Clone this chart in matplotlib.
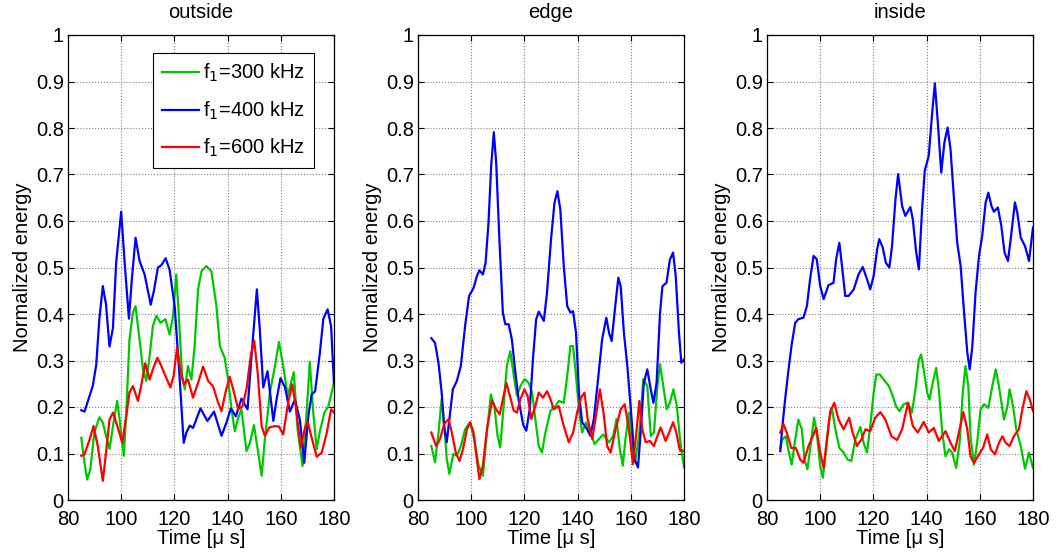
import numpy as np
import matplotlib
matplotlib.use("Agg")
import matplotlib.pyplot as plt
from matplotlib.ticker import FormatStrFormatter

plt.rcParams['font.family'] = ['Liberation Sans', 'DejaVu Sans']
plt.rcParams['font.size'] = 14.5

# ---- data (time in us, normalized energy) ----
# outside
t_out_400 = [85, 86.2, 89.3, 90.6, 91.8, 93.1, 94.3, 95.6, 96.9, 98.1, 100, 101.3, 102.9, 104.0, 105.4,
             106.9, 108.8, 111.1, 112.3, 113.8, 115.1, 116.7, 118.2, 120.1, 122.0, 123.5, 124.5, 125.8,
             127.0, 129.8, 132.4, 134.9, 137.7, 139.6, 141.2, 143.1, 145.2, 147.5, 149.0, 151.0, 152.1,
             153.4, 155.0, 157.2, 158.4, 159.9, 161.6, 163.4, 165.3, 167.2, 168.8, 170.4, 171.6, 172.9,
             174.7, 176.0, 177.6, 178.9, 180]
e_out_400 = [0.193, 0.19, 0.245, 0.29, 0.39, 0.46, 0.42, 0.33, 0.37, 0.51, 0.62, 0.51, 0.39, 0.475, 0.564,
             0.514, 0.485, 0.42, 0.45, 0.50, 0.505, 0.52, 0.495, 0.417, 0.26, 0.123, 0.145, 0.16,
             0.155, 0.197, 0.17, 0.19, 0.138, 0.167, 0.197, 0.18, 0.218, 0.195, 0.31, 0.453, 0.367,
             0.242, 0.277, 0.17, 0.216, 0.262, 0.242, 0.19, 0.216, 0.172, 0.08, 0.183, 0.227, 0.234,
             0.317, 0.39, 0.41, 0.374, 0.25]
t_out_300 = [85, 86.2, 87.2, 88.4, 89.9, 91.8, 93.1, 94.3, 95.6, 96.9, 98.5, 99.4, 101.0, 101.9, 103.1,
             104.4, 105.4, 106.9, 108.2, 109.4, 110.7, 111.9, 113.2, 114.8, 116.6, 118.2, 119.5, 120.7,
             121.6, 122.9, 123.9, 125.1, 126.4, 127.6, 128.9, 130.2, 132.0, 133.9, 135.8, 137.1, 138.9,
             140.2, 141.5, 142.7, 144.0, 145.2, 147.1, 148.4, 149.9, 151.5, 152.8, 154.0, 155.9, 157.8,
             159.3, 160.9, 162.6, 163.8, 164.9, 166.3, 168.2, 169.7, 170.9, 172.2, 173.5, 174.7, 176.4,
             177.9, 180]
e_out_300 = [0.134, 0.08, 0.044, 0.066, 0.145, 0.178, 0.166, 0.138, 0.11, 0.159, 0.213, 0.173, 0.095, 0.188, 0.345,
             0.403, 0.417, 0.345, 0.281, 0.256, 0.31, 0.374, 0.396, 0.381, 0.389, 0.356, 0.396, 0.485,
             0.403, 0.267, 0.238, 0.288, 0.259, 0.331, 0.453, 0.492, 0.503, 0.492, 0.417, 0.331, 0.306,
             0.259, 0.195, 0.148, 0.177, 0.195, 0.105, 0.123, 0.161, 0.102, 0.052, 0.13, 0.231, 0.288,
             0.34, 0.288, 0.224, 0.252, 0.275, 0.152, 0.073, 0.188, 0.297, 0.188, 0.109, 0.148, 0.188,
             0.202, 0.252]
t_out_600 = [85, 86.2, 88.1, 89.6, 91.2, 93.1, 94.3, 95.6, 96.9, 98.5, 100.4, 101.9, 103.1, 104.4, 106.3,
             107.5, 109.0, 110.7, 111.9, 113.6, 114.8, 116.6, 118.5, 119.7, 121.0, 122.4, 123.6, 125.1,
             127.0, 128.9, 130.8, 132.7, 134.5, 136.4, 137.7, 139.2, 140.8, 142.1, 144.0, 145.6, 147.1,
             148.7, 150.0, 151.3, 152.8, 154.0, 155.7, 157.8, 159.3, 160.9, 162.8, 164.3, 165.6, 167.5,
             169.1, 170.1, 171.6, 173.5, 175.4, 177.3, 178.9, 180]
e_out_600 = [0.095, 0.098, 0.13, 0.159, 0.116, 0.041, 0.102, 0.173, 0.188, 0.16, 0.123, 0.18, 0.231, 0.245, 0.213,
             0.245, 0.294, 0.259, 0.281, 0.306, 0.292, 0.267, 0.242, 0.267, 0.328, 0.274, 0.249, 0.259,
             0.22, 0.252, 0.287, 0.256, 0.245, 0.21, 0.191, 0.231, 0.265, 0.238, 0.195, 0.202, 0.238,
             0.31, 0.343, 0.274, 0.159, 0.138, 0.156, 0.159, 0.158, 0.141, 0.21, 0.249, 0.202, 0.113,
             0.156, 0.168, 0.134, 0.093, 0.102, 0.145, 0.195, 0.188]

# edge
t_edge_400 = [85, 86.4, 87.7, 88.9, 89.8, 90.8, 91.8, 93.1, 94.6, 96.1, 97.7, 99.2, 100.9, 102.1, 103.1,
              104.4, 105.4, 106.5, 107.5, 108.5, 109.4, 110.6, 111.9, 112.8, 114.1, 115.3, 116.6, 117.8,
              119.5, 120.7, 122.0, 123.2, 124.4, 125.4, 127.3, 128.5, 130.0, 131.3, 132.4, 133.5, 134.8,
              136.1, 137.3, 138.3, 139.4, 140.5, 141.7, 143.2, 144.8, 146.1, 147.7, 149.2, 150.8, 151.8,
              152.8, 153.9, 155.3, 156.2, 157.4, 158.7, 160.2, 161.4, 162.7, 163.7, 164.9, 166.2, 167.5,
              168.5, 169.7, 171.0, 171.9, 173.4, 174.7, 175.9, 176.9, 178.1, 179.0, 180]
e_edge_400 = [0.348, 0.338, 0.295, 0.231, 0.159, 0.124, 0.174, 0.238, 0.256, 0.288, 0.374, 0.439, 0.456, 0.481, 0.494,
              0.485, 0.51, 0.596, 0.718, 0.791, 0.725, 0.56, 0.403, 0.378, 0.378, 0.345, 0.274, 0.217,
              0.163, 0.149, 0.195, 0.302, 0.388, 0.405, 0.385, 0.446, 0.56, 0.639, 0.664, 0.625, 0.503,
              0.417, 0.403, 0.406, 0.36, 0.231, 0.167, 0.156, 0.138, 0.174, 0.26, 0.345, 0.392, 0.36,
              0.342, 0.403, 0.478, 0.46, 0.36, 0.288, 0.181, 0.088, 0.07, 0.145, 0.252, 0.281, 0.238,
              0.209, 0.252, 0.403, 0.46, 0.467, 0.517, 0.532, 0.481, 0.36, 0.295, 0.302]
t_edge_300 = [85, 86.4, 87.7, 88.9, 89.8, 90.8, 91.8, 93.3, 94.6, 96.1, 97.7, 99.6, 101.1, 102.8, 104.4,
              105.9, 107.4, 108.7, 109.9, 110.9, 112.2, 113.4, 114.7, 116.0, 117.2, 118.5, 120.1, 121.6,
              122.9, 124.1, 125.4, 126.6, 127.9, 129.8, 131.7, 132.9, 134.8, 136.1, 137.3, 138.3, 139.4,
              140.5, 141.7, 143.2, 144.8, 146.4, 148.0, 149.6, 151.8, 153.4, 154.6, 155.9, 157.0, 158.0,
              159.3, 160.5, 161.6, 163.1, 164.7, 166.2, 167.5, 168.7, 170.0, 171.0, 172.2, 173.5, 174.7,
              176.0, 177.3, 178.5, 180]
e_edge_300 = [0.116, 0.081, 0.145, 0.217, 0.167, 0.088, 0.056, 0.099, 0.095, 0.116, 0.152, 0.167, 0.131, 0.074, 0.052,
              0.145, 0.227, 0.202, 0.138, 0.113, 0.202, 0.288, 0.32, 0.267, 0.224, 0.245, 0.26, 0.252,
              0.231, 0.174, 0.116, 0.102, 0.145, 0.192, 0.202, 0.213, 0.209, 0.267, 0.331, 0.331, 0.267,
              0.195, 0.145, 0.167, 0.145, 0.12, 0.131, 0.141, 0.124, 0.138, 0.174, 0.109, 0.074, 0.131,
              0.188, 0.116, 0.081, 0.138, 0.26, 0.245, 0.138, 0.145, 0.245, 0.292, 0.245, 0.195, 0.209,
              0.238, 0.202, 0.131, 0.07]
t_edge_600 = [85, 86.8, 88.3, 89.8, 91.5, 92.7, 94.2, 95.6, 96.9, 98.4, 99.6, 100.9, 102.1, 103.1, 104.4,
              105.9, 107.8, 109.4, 110.7, 111.9, 113.2, 114.4, 116.0, 117.2, 118.5, 120.0, 121.2, 122.6,
              124.1, 125.4, 127.0, 128.5, 129.8, 131.0, 132.9, 134.8, 136.7, 138.3, 139.8, 141.3, 142.6,
              143.8, 145.5, 146.7, 148.4, 149.9, 151.1, 152.4, 154.3, 156.2, 157.7, 159.3, 160.8, 162.1,
              163.2, 164.3, 165.6, 167.2, 168.7, 170.0, 171.2, 173.1, 174.4, 175.9, 177.1, 178.5, 180]
e_edge_600 = [0.145, 0.116, 0.131, 0.163, 0.174, 0.145, 0.102, 0.084, 0.109, 0.152, 0.167, 0.145, 0.088, 0.045, 0.074,
              0.152, 0.213, 0.195, 0.184, 0.217, 0.252, 0.227, 0.192, 0.188, 0.217, 0.238, 0.224, 0.174,
              0.202, 0.231, 0.22, 0.234, 0.217, 0.195, 0.202, 0.159, 0.124, 0.145, 0.188, 0.22, 0.231,
              0.174, 0.131, 0.174, 0.238, 0.181, 0.116, 0.102, 0.152, 0.195, 0.206, 0.152, 0.077, 0.145,
              0.213, 0.152, 0.124, 0.127, 0.116, 0.138, 0.156, 0.127, 0.145, 0.167, 0.145, 0.106, 0.106]

# inside
t_in_400 = [85, 85.8, 86.8, 88.1, 89.3, 90.6, 91.8, 93.7, 95.0, 96.2, 97.5, 98.7, 100, 101.3, 103.1,
            105.0, 106.0, 107.2, 108.2, 109.4, 110.7, 112.6, 114.4, 116.0, 117.6, 118.8, 120.1, 121.4,
            122.2, 123.5, 124.7, 126.0, 127.0, 128.3, 129.3, 130.8, 132.0, 133.9, 134.8, 136.1, 137.1,
            138.3, 139.3, 140.8, 142.1, 143.1, 144.3, 145.5, 146.7, 147.9, 149.0, 150.3, 151.5, 152.8,
            154.0, 155.3, 156.2, 157.2, 158.4, 159.7, 160.9, 162.2, 163.2, 164.4, 165.3, 166.8, 168.1,
            169.3, 170.6, 171.9, 173.2, 174.1, 175.4, 177.0, 178.5, 180]
e_in_400 = [0.105, 0.159, 0.216, 0.281, 0.335, 0.381, 0.389, 0.392, 0.417, 0.475, 0.525, 0.518, 0.46, 0.432, 0.462,
            0.467, 0.518, 0.553, 0.503, 0.439, 0.439, 0.453, 0.485, 0.501, 0.475, 0.453, 0.482, 0.539,
            0.561, 0.543, 0.51, 0.5, 0.546, 0.647, 0.701, 0.632, 0.611, 0.63, 0.604, 0.532, 0.496,
            0.625, 0.708, 0.74, 0.833, 0.896, 0.805, 0.704, 0.769, 0.801, 0.754, 0.647, 0.554, 0.503,
            0.41, 0.317, 0.281, 0.331, 0.446, 0.525, 0.568, 0.64, 0.661, 0.632, 0.62, 0.629, 0.589,
            0.532, 0.514, 0.575, 0.64, 0.618, 0.564, 0.546, 0.514, 0.586]
t_in_300 = [85, 85.8, 87.1, 88.1, 89.3, 90.6, 91.8, 93.1, 94.1, 95.2, 96.2, 97.7, 98.7, 100, 101.0,
            102.1, 103.4, 104.4, 105.7, 107.2, 108.8, 110.3, 111.7, 113.2, 115.1, 116.3, 117.6, 118.8,
            120.1, 121.1, 122.4, 123.9, 125.8, 127.3, 128.5, 129.8, 131.4, 133.0, 134.5, 135.8, 137.1,
            137.9, 138.9, 140.2, 141.1, 142.3, 143.6, 144.6, 145.9, 147.1, 148.4, 149.6, 151.1, 152.4,
            153.6, 154.6, 155.7, 156.5, 157.8, 159.0, 160.3, 161.6, 163.2, 164.7, 166.0, 167.2, 169.1,
            170.4, 171.2, 172.5, 173.7, 175.4, 177.0, 178.5, 180]
e_in_300 = [0.112, 0.13, 0.137, 0.105, 0.076, 0.13, 0.173, 0.152, 0.087, 0.066, 0.109, 0.177, 0.145, 0.073, 0.048,
            0.102, 0.173, 0.198, 0.152, 0.112, 0.102, 0.087, 0.084, 0.13, 0.157, 0.123, 0.102, 0.159,
            0.231, 0.27, 0.27, 0.259, 0.245, 0.223, 0.202, 0.191, 0.206, 0.209, 0.188, 0.238, 0.302,
            0.313, 0.281, 0.231, 0.216, 0.252, 0.284, 0.238, 0.145, 0.094, 0.109, 0.102, 0.069, 0.123,
            0.231, 0.288, 0.245, 0.137, 0.076, 0.123, 0.195, 0.206, 0.198, 0.245, 0.281, 0.245, 0.173,
            0.202, 0.238, 0.202, 0.152, 0.116, 0.067, 0.102, 0.069]
t_in_600 = [85, 86.2, 87.4, 89.1, 90.8, 92.5, 93.7, 95.6, 97.5, 98.5, 100, 101.3, 102.5, 103.8, 105.3,
            106.9, 108.8, 110.9, 112.2, 113.8, 115.5, 117.0, 118.8, 120.7, 122.6, 124.5, 126.8, 128.9,
            130.8, 133.0, 134.8, 136.7, 138.9, 140.8, 142.7, 144.6, 147.1, 149.0, 150.6, 152.4, 153.8,
            155.3, 156.5, 157.8, 159.7, 161.2, 162.8, 164.1, 165.7, 167.2, 168.5, 169.7, 171.2, 172.8,
            174.7, 176.0, 177.5, 178.8, 180]
e_in_600 = [0.145, 0.163, 0.145, 0.112, 0.112, 0.087, 0.08, 0.116, 0.141, 0.155, 0.102, 0.069, 0.13, 0.191, 0.209,
            0.173, 0.152, 0.177, 0.145, 0.116, 0.13, 0.152, 0.148, 0.177, 0.189, 0.173, 0.137, 0.129,
            0.152, 0.209, 0.159, 0.145, 0.168, 0.145, 0.155, 0.127, 0.148, 0.123, 0.105, 0.152, 0.189,
            0.152, 0.094, 0.08, 0.098, 0.112, 0.141, 0.109, 0.098, 0.123, 0.137, 0.123, 0.116, 0.137,
            0.152, 0.195, 0.234, 0.216, 0.191]

titles = ['outside', 'edge', 'inside']
labels = ['f$_1$=300 kHz', 'f$_1$=400 kHz', 'f$_1$=600 kHz']
colors = ['#00c800', '#0000ff', '#ff0000']

panels = [
    [(t_out_300, e_out_300), (t_out_400, e_out_400), (t_out_600, e_out_600)],
    [(t_edge_300, e_edge_300), (t_edge_400, e_edge_400), (t_edge_600, e_edge_600)],
    [(t_in_300, e_in_300), (t_in_400, e_in_400), (t_in_600, e_in_600)],
]

fig = plt.figure(figsize=(10.58, 5.52), dpi=100)
lefts = [68, 418, 767]

for k, (title, series) in enumerate(zip(titles, panels)):
    ax = fig.add_axes([lefts[k] / 1058, 52 / 552, 266 / 1058, 465 / 552])
    for (t, e), c, lab in zip(series, colors, labels):
        ax.plot(t, e, color=c, lw=1.6, label=lab, solid_joinstyle='round')
    ax.set_xlim(80, 180)
    ax.set_ylim(0, 1)
    ax.set_xticks(np.arange(80, 181, 20))
    ax.set_yticks(np.arange(0, 1.01, 0.1))
    ax.yaxis.set_major_formatter(FormatStrFormatter('%g'))
    ax.tick_params(direction='in', top=True, right=True, length=4, width=0.8)
    ax.tick_params(axis='x', pad=7)
    ax.tick_params(axis='y', pad=3)
    ax.grid(True, linestyle=':', color='#808080', lw=0.8)
    for sp in ax.spines.values():
        sp.set_linewidth(0.9)
    ax.set_title(title, fontsize=14.5, pad=12)
    ax.set_xlabel('Time [\u03bc s]', labelpad=0)
    ax.set_ylabel('Normalized energy', labelpad=3)
    if k == 0:
        leg = ax.legend(loc='upper right', bbox_to_anchor=(0.925, 0.961), borderaxespad=0,
                        fancybox=False, framealpha=1, edgecolor='black', handlelength=1.85,
                        handletextpad=0.2, labelspacing=0.75, borderpad=0.45)
        leg.get_frame().set_linewidth(0.8)

fig.savefig('out.png', dpi=100)
